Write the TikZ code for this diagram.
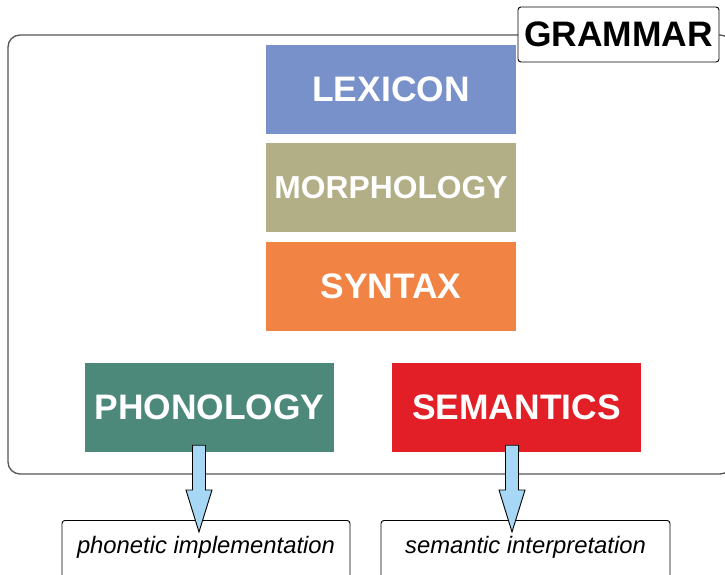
\documentclass[tikz,border=0pt]{standalone}
\usepackage{fontspec}
\setmainfont{Liberation Sans}
\usetikzlibrary{calc}
\definecolor{lexcol}{HTML}{7891CA}
\definecolor{morcol}{HTML}{B2AE86}
\definecolor{syncol}{HTML}{F18345}
\definecolor{phocol}{HTML}{4D897A}
\definecolor{semcol}{HTML}{E21F26}
\definecolor{arrcol}{HTML}{A6D8F5}
\definecolor{framecol}{HTML}{555555}
\newcommand\blockarrow[2]{%
	\draw[blockarrow] let \p1=(#1), \p2=(#2) in
	(\x1-6.5pt,\y1) -- (\x1+6.5pt,\y1) -- (\x1+6.5pt,\y2+42pt) -- (\x1+13pt,\y2+42pt)
	-- (\x2,\y2) -- (\x1-13pt,\y2+42pt) -- (\x1-6.5pt,\y2+42pt) -- cycle;}
\begin{document}
\begin{tikzpicture}[x=1pt,y=-1pt,
	level/.style={fill=#1,text=white,minimum width=250pt,minimum height=89pt,inner sep=0pt,
		font=\bfseries\fontsize{35.4}{40}\selectfont},
	outbox/.style={draw,line width=0.9pt,fill=white,rounded corners=3pt,anchor=north,minimum width=288pt,
		inner xsep=0pt,inner ysep=16pt,text height=17pt,text depth=46pt,
		font=\itshape\fontsize{23.8}{28}\selectfont},
	blockarrow/.style={draw=black,fill=arrcol,line width=0.9pt,line join=miter}]
	\useasboundingbox (0,0) rectangle (725,574);
	\clip (0,0) rectangle (725,574);
	\fill[white] (0,0) rectangle (725,574);
	% outer frame
	\draw[framecol,line width=1.3pt,rounded corners=12pt] (8,35) rectangle (732,474);
	\node[draw,line width=0.9pt,fill=white,rounded corners=3pt,minimum width=201pt,minimum height=55pt,inner sep=0pt,
		font=\bfseries\fontsize{35.4}{40}\selectfont] (grammar) at (618.5,34.5) {GRAMMAR};
	% levels
	\node[level=lexcol] (lex) at (391,89.5) {LEXICON};
	\node[level=morcol,font=\bfseries\fontsize{31.8}{36}\selectfont] (mor) at (391,187.5) {MORPHOLOGY};
	\node[level=syncol] (syn) at (391,286.5) {SYNTAX};
	\node[level=phocol,minimum width=249pt] (pho) at (209.5,407.5) {PHONOLOGY};
	\node[level=semcol,minimum width=249pt] (sem) at (516.5,407.5) {SEMANTICS};
	% interfaces
	\node[outbox] (phoimpl) at (206,520) {phonetic implementation};
	\node[outbox,minimum width=289pt] (seminterp) at (525.5,520) {semantic interpretation};
	\coordinate (phoout) at ($(pho.south)+(-10.5,-7)$);
	\coordinate (phoin) at ($(phoimpl.north)+(-7,12)$);
	\coordinate (semout) at ($(sem.south)+(-4.5,-7)$);
	\coordinate (semin) at ($(seminterp.north)+(-13.5,12)$);
	\blockarrow{phoout}{phoin}
	\blockarrow{semout}{semin}
\end{tikzpicture}
\end{document}
